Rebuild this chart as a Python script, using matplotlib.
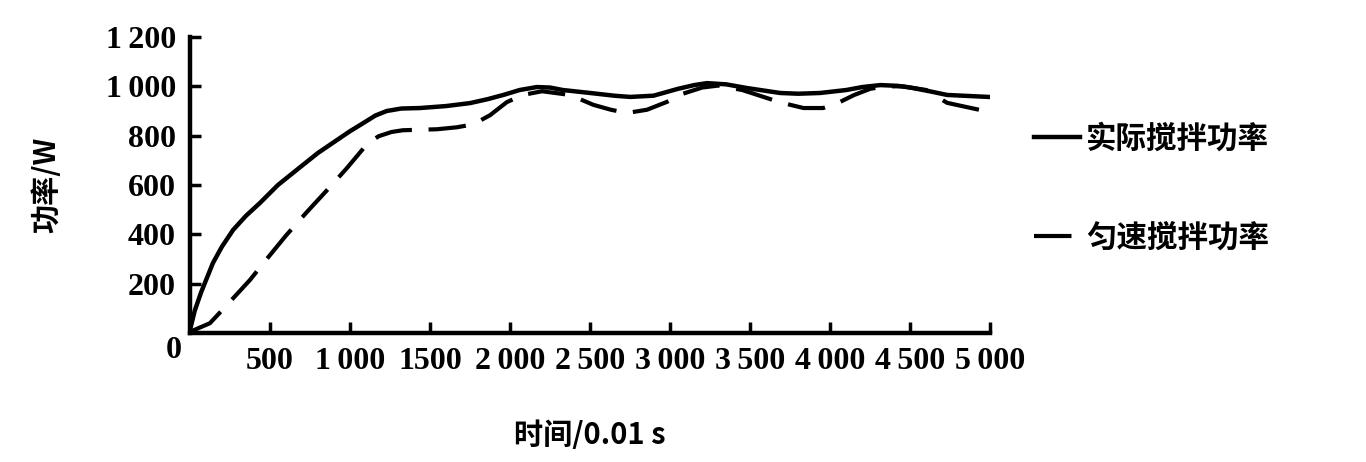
import matplotlib.pyplot as plt

plt.rcParams['font.family'] = ['Noto Sans CJK SC', 'DejaVu Sans']

# 实际搅拌功率
t_actual = [0, 30, 70, 144, 200, 270, 350, 437, 550, 690, 800, 918, 1000, 1083,
            1160, 1230, 1320, 1437, 1600, 1750, 1860, 1958, 2060, 2167, 2250,
            2330, 2500, 2650, 2750, 2896, 3050, 3150, 3230, 3350, 3480, 3687,
            3800, 3937, 4100, 4200, 4312, 4420, 4500, 4620, 4730, 4988]
p_actual = [10, 90, 165, 284, 350, 418, 475, 527, 600, 673, 730, 782, 818, 851,
            882, 900, 910, 912, 920, 932, 948, 965, 985, 997, 995,
            985, 973, 962, 957, 962, 990, 1005, 1013, 1008, 993, 973,
            970, 973, 985, 997, 1005, 1002, 995, 980, 965, 957]

# 匀速搅拌功率
t_uniform = [0, 125, 219, 375, 480, 600, 730, 875, 980, 1112, 1180, 1260, 1330,
             1543, 1668, 1770, 1875, 1980, 2080, 2200, 2375, 2520, 2630, 2730,
             2855, 2980, 3080, 3200, 3300, 3450, 3645, 3750, 3833, 3956, 4062,
             4150, 4250, 4350, 4450, 4600, 4730, 4937]
p_uniform = [5, 40, 105, 215, 300, 395, 490, 592, 668, 770, 798, 815, 822,
             826, 834, 846, 883, 936, 965, 980, 965, 925, 905, 892,
             905, 937, 970, 995, 1003, 985, 944, 925, 912, 912, 937,
             965, 990, 1000, 1000, 985, 933, 904]

xticks = [500, 1000, 1500, 2000, 2500, 3000, 3500, 4000, 4500, 5000]
xlabels = ['500', '1\u2009000', '1500', '2\u2009000', '2\u2009500', '3\u2009000',
           '3\u2009500', '4\u2009000', '4\u2009500', '5\u2009000']
yticks = [200, 400, 600, 800, 1000, 1200]
ylabels = ['200', '400', '600', '800', '1\u2009000', '1\u2009200']

fig = plt.figure(figsize=(13.66, 4.62), dpi=100)
ax = fig.add_axes([0.139, 0.279, 0.586, 0.641])

ax.plot(t_actual, p_actual, color='black', lw=3.2, label='实际搅拌功率',
        solid_joinstyle='round')
ax.plot(t_uniform, p_uniform, color='black', lw=3.0, ls=(0, (9, 4)),
        label='匀速搅拌功率')

ax.set_xlim(0, 5000)
ax.set_ylim(0, 1200)
for s in ['top', 'right']:
    ax.spines[s].set_visible(False)
for s in ['left', 'bottom']:
    ax.spines[s].set_linewidth(3.2)

tick_font = dict(family=['Liberation Serif', 'DejaVu Serif'], weight='bold', size=23)
ax.set_xticks(xticks)
ax.set_xticklabels(xlabels, **tick_font)
ax.set_yticks(yticks)
ax.set_yticklabels(ylabels, **tick_font)
ax.tick_params(direction='in', length=8, width=2.5, pad=10)
ax.text(-0.02, -0.06, '0', transform=ax.transAxes, ha='center', va='center', **tick_font)

ax.set_xlabel('时间/0.01 s', fontsize=21, fontweight='bold', labelpad=32)
ax.set_ylabel('功率/W', fontsize=21, fontweight='bold', labelpad=32)

ax.legend(loc='center left', bbox_to_anchor=(1.02, 0.49), frameon=False,
          prop=dict(size=22, weight='bold'), handlelength=1.5,
          handletextpad=0.2, labelspacing=2.2)

fig.savefig('out.png', dpi=100)
